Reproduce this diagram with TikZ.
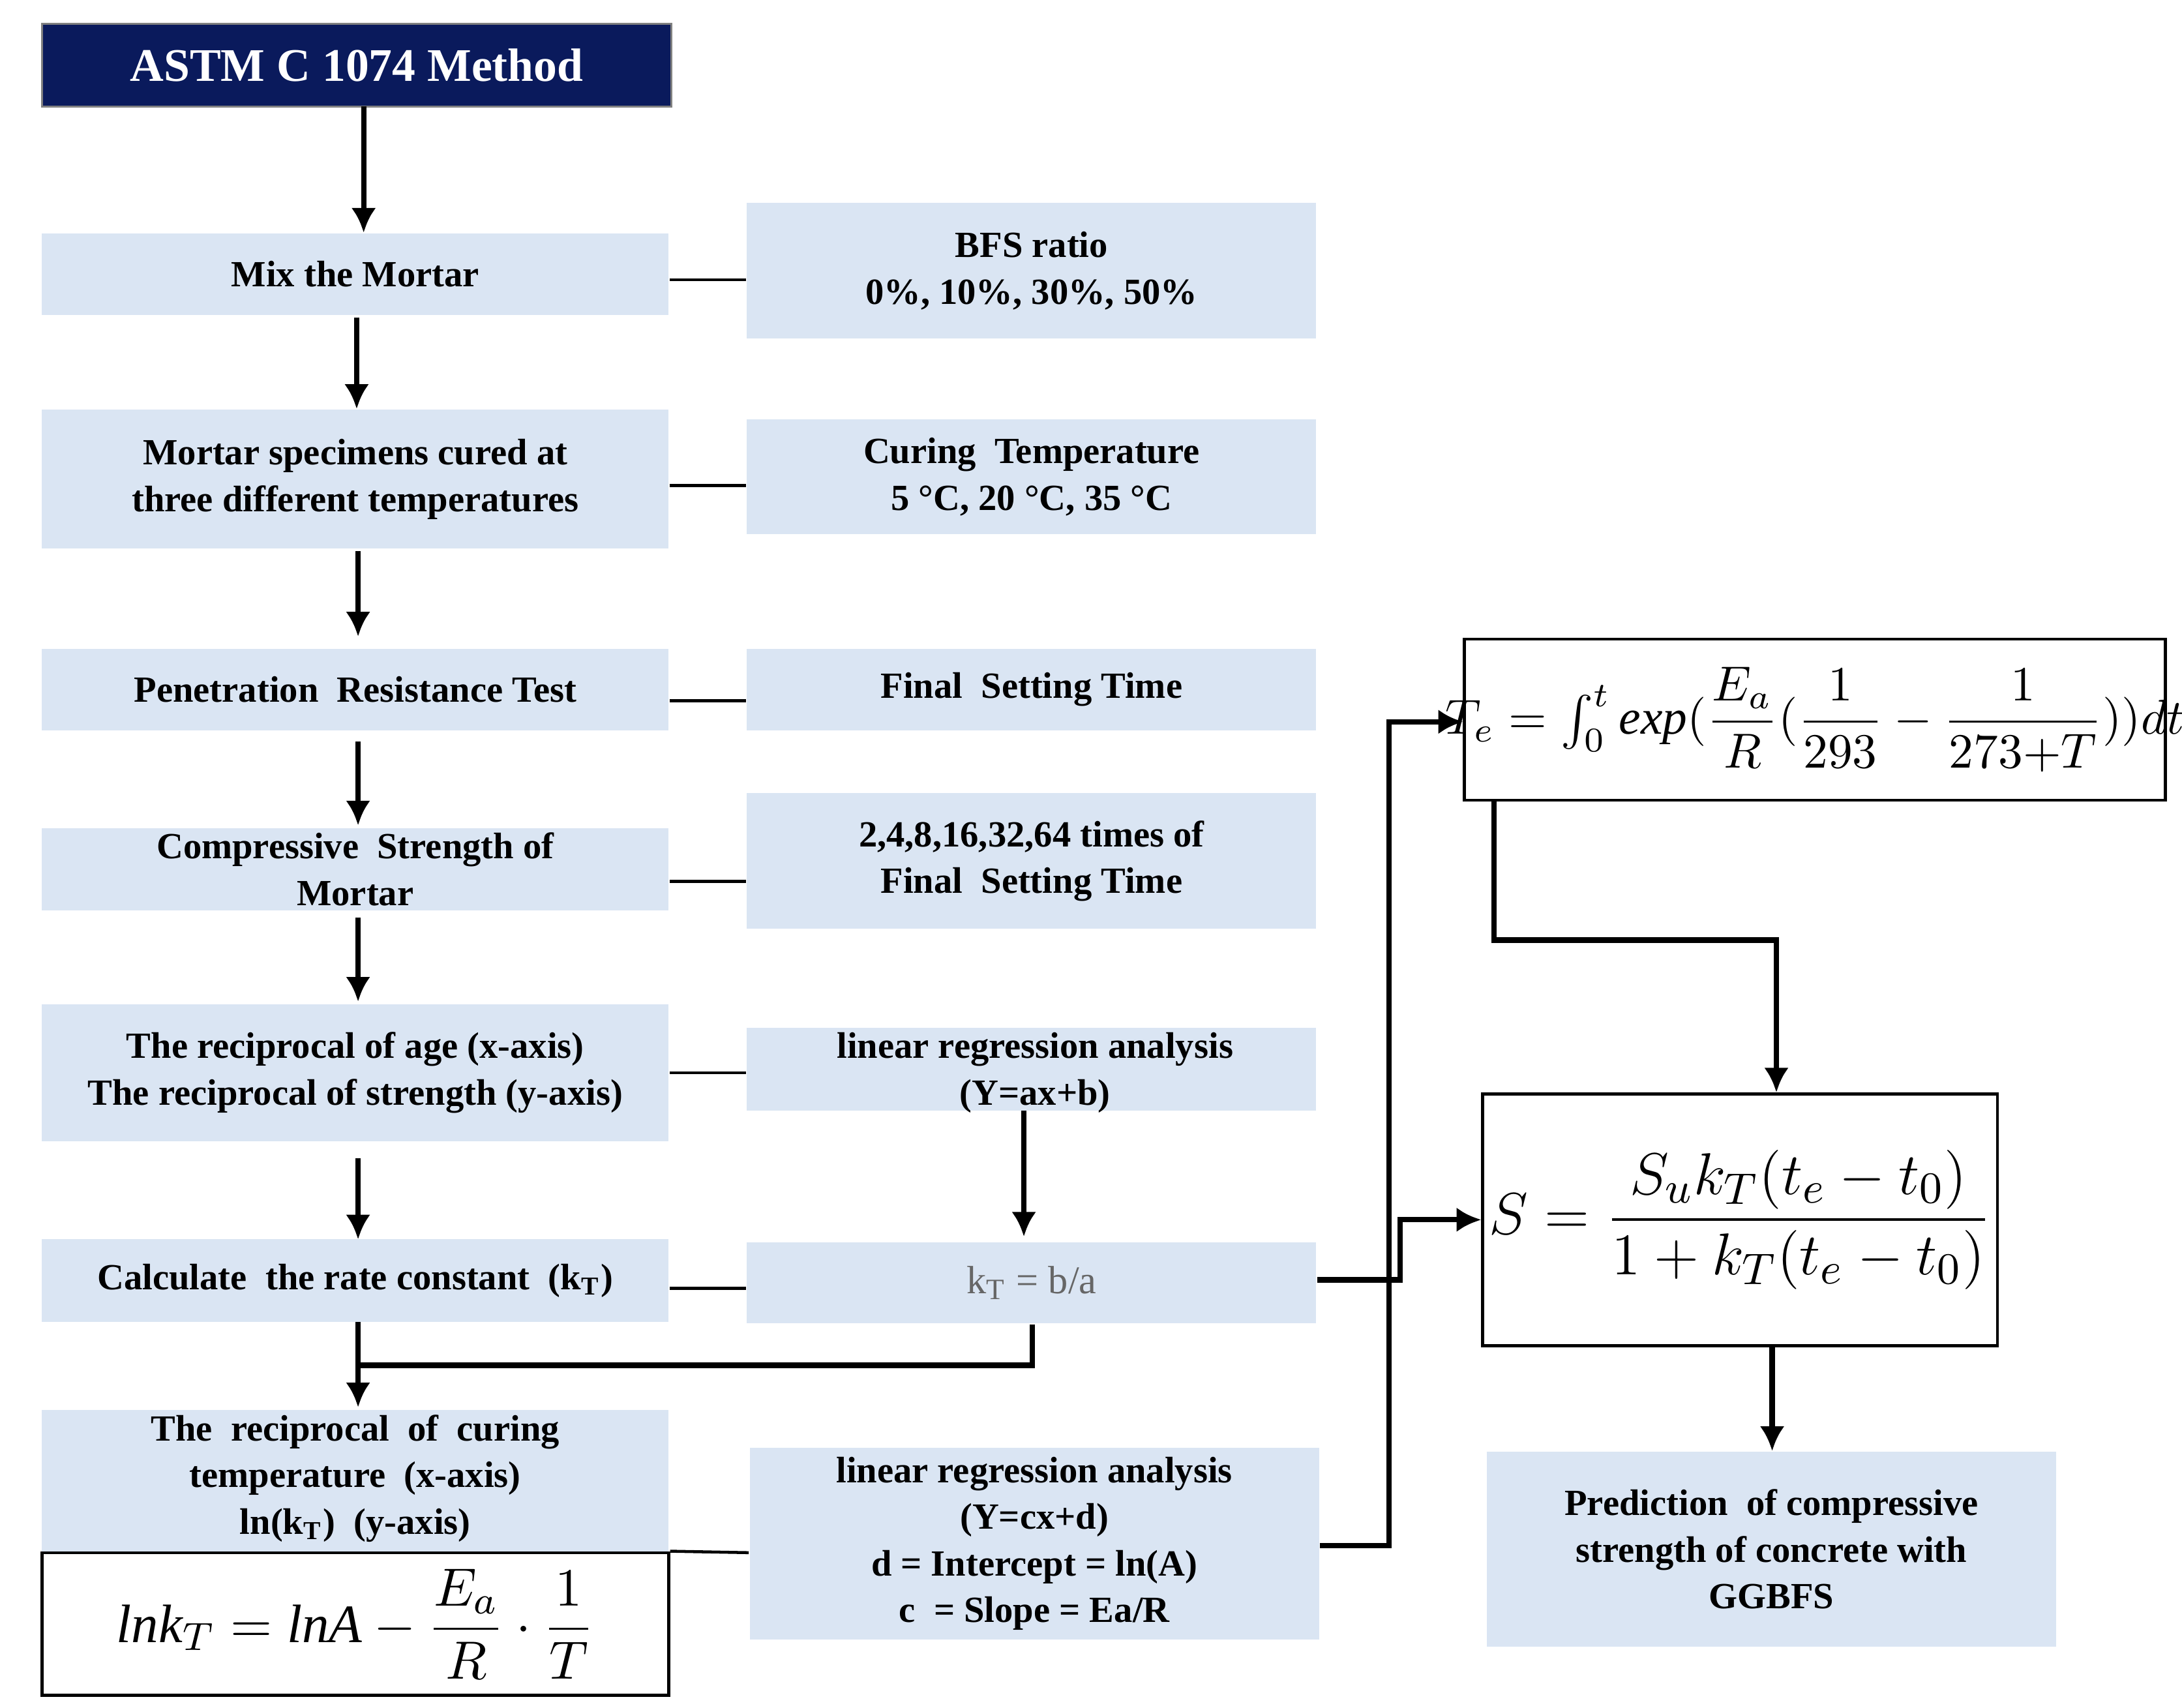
\documentclass[tikz,border=0pt]{standalone}
\usepackage{fontspec}
\setmainfont{Liberation Serif}
\usepackage{amsmath}
\usetikzlibrary{arrows.meta}
\begin{document}
\begin{tikzpicture}[x=0.01cm,y=-0.01cm,
 bx/.style={fill=boxc,draw=none,font=\bfseries\fontsize{7.5}{9.5}\selectfont,align=center,inner sep=0},
 fb/.style={fill=white,draw=black,line width=0.6pt,inner sep=0},
 ln/.style={line width=0.6pt},
 ar/.style={line width=1.1pt,-{Latex[length=5pt,width=5pt]}}]
\definecolor{boxc}{HTML}{DAE5F3}
\definecolor{navy}{HTML}{0A1A5C}
\useasboundingbox (0,0) rectangle (1560,1221);
\newcommand{\bxat}[6]{\node[#1,minimum width={(#4-#3)*0.01cm},minimum height={(#6-#5)*0.01cm}] (#2) at ({(#3+#4)/2},{(#5+#6)/2}) {};}
\bxat{bx,fill=navy,draw=gray}{astm}{30}{480}{17}{76}
\node[font=\bfseries\fontsize{9.5}{11}\selectfont,text=white] at (astm) {ASTM C 1074 Method};
\bxat{bx}{mix}{30}{478}{167}{225}\node[bx,fill=none] at (mix) {Mix the Mortar};
\bxat{bx}{bfs}{534}{941}{145}{242}\node[bx,fill=none] at (bfs) {BFS ratio\\0\%, 10\%, 30\%, 50\%};
\bxat{bx}{spec}{30}{478}{293}{392}\node[bx,fill=none] at (spec) {Mortar specimens cured at\\three different temperatures};
\bxat{bx}{cur}{534}{941}{300}{382}\node[bx,fill=none] at (cur) {Curing\ \ Temperature\\5 °C, 20 °C, 35 °C};
\bxat{bx}{pen}{30}{478}{464}{522}\node[bx,fill=none] at (pen) {Penetration\ \ Resistance Test};
\bxat{bx}{fst}{534}{941}{464}{522}\node[bx,fill=none] at (fst) {Final\ \ Setting Time};
\bxat{bx}{comp}{30}{478}{592}{651}\node[bx,fill=none] at (comp) {Compressive\ \ Strength of\\Mortar};
\bxat{bx}{times}{534}{941}{567}{664}\node[bx,fill=none] at (times) {2,4,8,16,32,64 times of\\Final\ \ Setting Time};
\bxat{bx}{recip}{30}{478}{718}{816}\node[bx,fill=none] at (recip) {The reciprocal of age (x-axis)\\The reciprocal of strength (y-axis)};
\bxat{bx}{lr}{534}{941}{735}{794}\node[bx,fill=none] at (740,767) {linear regression analysis\\(Y=ax+b)};
\bxat{bx}{calc}{30}{478}{886}{945}\node[bx,fill=none] at (calc) {Calculate\ \ the rate constant\ \ (k\textsubscript{T})};
\bxat{bx}{kt}{534}{941}{888}{946}\node[font=\fontsize{8}{9}\selectfont,text=gray!80!black] at (kt) {k\textsubscript{T} =\ b/a};
\bxat{bx}{rct}{30}{478}{1008}{1110}\node[bx,fill=none] at (254,1057) {The\ \ reciprocal\ \ of\ \ curing\\temperature\ \ (x-axis)\\ln(k\textsubscript{T})\ \ (y-axis)};
\bxat{fb}{lnk}{30}{478}{1110}{1212}\node at (lnk) {\fontsize{11}{13}\selectfont$\mathit{lnk}_T=\mathit{lnA}-\dfrac{E_a}{R}\cdot\dfrac{1}{T}$};
\bxat{bx}{lr2}{536}{943}{1035}{1172}\node[bx,fill=none] at (lr2) {linear regression analysis\\(Y=cx+d)\\d = Intercept = ln(A)\\c\ \ = Slope = Ea/R};
\bxat{fb}{te}{1047}{1548}{457}{572}\node at (te) {\fontsize{10}{12}\selectfont$T_e=\int_0^t \mathit{exp}(\dfrac{E_a}{R}(\dfrac{1}{293}-\dfrac{1}{273{+}T}))dt$};
\bxat{fb}{sf}{1060}{1428}{782}{962}\node at (sf) {\fontsize{12.5}{15}\selectfont$S=\dfrac{S_uk_T(t_e-t_0)}{1+k_T(t_e-t_0)}$};
\bxat{bx}{pred}{1063}{1470}{1038}{1177}\node[bx,fill=none] at (pred) {Prediction\ \ of compressive\\strength of concrete with\\GGBFS};
\draw[ln] (mix.east|-0,200) -- (bfs.west|-0,200);
\draw[ln] (spec.east|-0,347) -- (cur.west|-0,347);
\draw[ln] (pen.east|-0,501) -- (fst.west|-0,501);
\draw[ln] (comp.east|-0,630) -- (times.west|-0,630);
\draw[ln] (recip.east|-0,767) -- (lr.west|-0,767);
\draw[ln] (calc.east|-0,921) -- (kt.west|-0,921);
\draw[ln] (lnk.north east) -- (lr2.west|-0,1110);
\draw[ar] (260,76) -- (mix.north-|260,0);
\draw[ar] (255,227) -- (spec.north-|255,0);
\draw[ar] (256,394) -- (256,455);
\draw[ar] (256,530) -- (256,590);
\draw[ar] (256,656) -- (256,716);
\draw[ar] (256,828) -- (256,886);
\draw[ar] (732,794) -- (732,884);
\draw[ar] (256,945) -- (256,1006);
\draw[line width=1.1pt] (kt.south-|738,0) -- (738,976) -- (256,976);
\draw[ar] (kt.east|-0,915) -- (1001,915) -- (1001,872) -- (sf.west|-0,872);
\draw[ar] (lr2.east|-0,1105) -- (993,1105) -- (993,516) -- (te.west|-0,516);
\draw[ar] (te.south-|1068,0) -- (1068,672) -- (1270,672) -- (sf.north-|1270,0);
\draw[ar] (sf.south-|1267,0) -- (pred.north-|1267,0);
\end{tikzpicture}
\end{document}
